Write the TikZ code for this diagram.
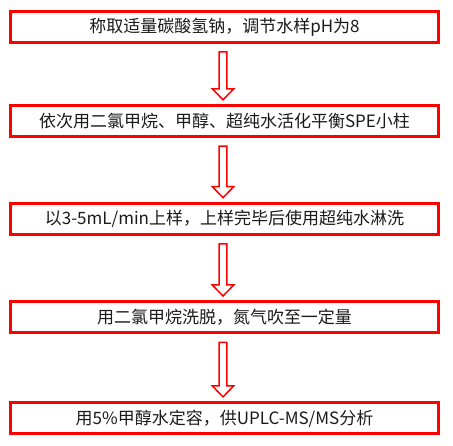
\documentclass[tikz,border=0pt]{standalone}
\usepackage{fontspec}
\setmainfont{Noto Sans CJK SC}
\usetikzlibrary{calc}
\definecolor{boxred}{HTML}{FF0000}
\definecolor{txt}{HTML}{1A1A1A}
\tikzset{
  stepbox/.style={draw=boxred, line width=3pt, minimum width=428pt, minimum height=31pt,
    inner sep=0pt, text=txt, font=\fontsize{17pt}{20pt}\selectfont},
  hollowarrow/.style={draw=boxred, fill=white, line width=1.5pt, line join=miter}
}
\newcommand\flowarrow[2]{%
  \draw[hollowarrow]
    ($(#1.south)+(-5.3,-7.8)$) -- ($(#1.south)+(2.3,-7.8)$) --
    ($(#2.north)+(2.3,15.5)$) -- ($(#2.north)+(9.2,15.5)$) --
    ($(#2.north)+(-1.5,4.5)$) -- ($(#2.north)+(-12.2,15.5)$) --
    ($(#2.north)+(-5.3,15.5)$) -- cycle;}
\begin{document}
\begin{tikzpicture}[x=1pt,y=1pt]
\useasboundingbox (0,0) rectangle (453,446);
\node[stepbox] (s1) at (224.5,419) {称取适量碳酸氢钠，调节水样pH为8};
\node[stepbox] (s2) at (224.5,324.7) {依次用二氯甲烷、甲醇、超纯水活化平衡SPE小柱};
\node[stepbox] (s3) at (224.5,226.8) {以3-5mL/min上样，上样完毕后使用超纯水淋洗};
\node[stepbox] (s4) at (224.5,128.5) {用二氯甲烷洗脱，氮气吹至一定量};
\node[stepbox] (s5) at (224.5,27.6) {用5\%甲醇水定容，供UPLC-MS/MS分析};
\flowarrow{s1}{s2}
\flowarrow{s2}{s3}
\flowarrow{s3}{s4}
\flowarrow{s4}{s5}
\end{tikzpicture}
\end{document}
